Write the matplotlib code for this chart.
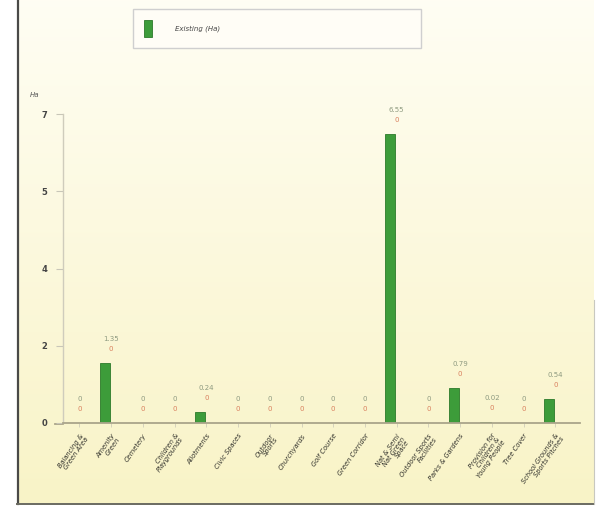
import numpy as np
import matplotlib
matplotlib.use("Agg")
from matplotlib import pyplot as plt
from matplotlib.patches import Rectangle

# categories along the x axis
categories = [
    "Balancing &\nGreen Area", "Amenity\nGreen", "Cemetery", "Children &\nPlaygrounds",
    "Allotments", "Civic Spaces", "Outdoor\nSports", "Churchyards", "Golf Course",
    "Green Corridor", "Nat & Semi\nNat Green\nSpace", "Outdoor Sports\nFacilities",
    "Parks & Gardens", "Provision for\nChildren &\nYoung People", "Tree Cover",
    "School Grounds &\nSports Pitches",
]
existing = [0, 1.35, 0, 0, 0.24, 0, 0, 0, 0, 0, 6.55, 0, 0.79, 0.02, 0, 0.54]
proposed = [0] * 16
existing_text = ["0", "1.35", "0", "0", "0.24", "0", "0", "0", "0", "0", "6.55",
                 "0", "0.79", "0.02", "0", "0.54"]
yticks = [0, 1.75, 3.5, 5.25, 7]
ytick_labels = ["0", "2", "4", "5", "7"]

W, H = 596, 508
fig = plt.figure(figsize=(W / 100, H / 100), dpi=100)

# background: white margin, cream gradient panel with a dark frame
bg = fig.add_axes([0, 0, 1, 1], zorder=-10)
bg.axis("off")
grad = np.linspace(0, 1, 256).reshape(-1, 1)
top = np.array([1.0, 0.995, 0.955])
bot = np.array([0.975, 0.955, 0.78])
img = top + (bot - top) * grad[..., None]
bg.add_patch(Rectangle((0, 0), W, H, color="white", zorder=0))
bg.imshow(img, extent=(18, 594, 503, 0), aspect="auto", zorder=1)
bg.plot([18, 18], [0, 504], color="#4a4a48", lw=1.6, zorder=2)
bg.plot([17, 594], [503.5, 503.5], color="#6a6a60", lw=1.4, zorder=2)
bg.plot([594, 594], [300, 504], color="#c8c8c0", lw=0.8, zorder=2)
bg.plot([55, 63], [423.5, 423.5], color="#aaa58a", lw=1.3, zorder=2)
bg.text(30, 95, "Ha", fontsize=5, style="italic", color="#555", va="center", zorder=3)
bg.set_xlim(0, W)
bg.set_ylim(H, 0)

ax = fig.add_axes([63 / W, (H - 423) / H, (580 - 63) / W, (423 - 114) / H])
ax.patch.set_alpha(0)
x = np.arange(len(categories))
bars = ax.bar(x - 0.2, existing, width=0.32, color="#3d9c3a", edgecolor="#2c7a2a",
              linewidth=0.6, label="Existing (Ha)")

for xi, v, t, p in zip(x, existing, existing_text, proposed):
    ax.annotate(t, (xi, v), xytext=(0, 24), textcoords="offset pixels",
                ha="center", va="center", fontsize=5, color="#8e9a80")
    ax.annotate(f"{p}", (xi, v), xytext=(0, 14), textcoords="offset pixels",
                ha="center", va="center", fontsize=5, color="#d9805e")

ax.set_xlim(-0.52, 15.78)
ax.set_ylim(0, 7)
ax.set_yticks(yticks)
ax.set_yticklabels(ytick_labels, fontsize=6, color="#444", fontweight="bold")
ax.set_xticks(x)
ax.set_xticklabels(categories, rotation=55, ha="right", va="top",
                   rotation_mode="anchor", fontsize=4.8, color="#2f2f2a",
                   fontstyle="italic", linespacing=0.95)
ax.tick_params(axis="y", length=5, color="#c8c6b8", width=0.8, pad=6)
ax.tick_params(axis="x", length=3, color="#d0cdb8", width=0.6, pad=4)
for s in ["top", "right"]:
    ax.spines[s].set_visible(False)
ax.spines["left"].set_color("#cfccbc")
ax.spines["left"].set_linewidth(1.0)
ax.spines["bottom"].set_color("#aaa58a")
ax.spines["bottom"].set_linewidth(1.3)

leg = fig.legend(handles=[bars], loc="upper left",
                 bbox_to_anchor=(133 / W, 1 - 9 / H, 288 / W, 0.0001), mode="expand",
                 fontsize=5, handlelength=1.15, handleheight=3.3, borderpad=1.6,
                 handletextpad=3.3, fancybox=False, framealpha=1,
                 facecolor="#fffdf6", edgecolor="#cfcfcf", borderaxespad=0)
leg.get_frame().set_linewidth(1.0)
for t in leg.get_texts():
    t.set_fontstyle("italic")
    t.set_color("#444")

fig.savefig("out.png", dpi=100)
